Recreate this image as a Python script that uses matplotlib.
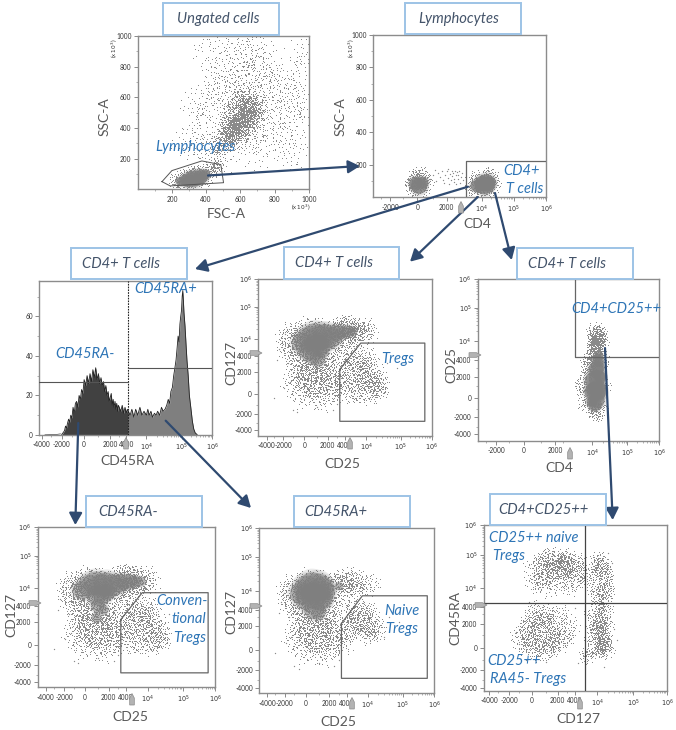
import numpy as np
import matplotlib
matplotlib.use("Agg")
import matplotlib.pyplot as plt
from matplotlib.path import Path
from matplotlib.patches import Polygon, Rectangle
from matplotlib.transforms import Affine2D
from matplotlib.ticker import NullFormatter, FixedLocator

W, H = 676, 730
plt.rcParams['font.family'] = ['Lato', 'DejaVu Sans']

TITLE_C = '#44546a'; GATE_C = '#2e75b6'; AX_C = '#595959'; SPINE = '#8c8c8c'; ARROW_C = '#2f4a70'; DOT = '#8a8a8a'; BOX_C = '#9dc3e6'

# ---------- values ----------
# CD25 / CD127 populations (shared by the three plots on those channels)
A_x = [-1200,-800,-400,0,400,800,1200,1600,2000,2400,-1000,-500,0,500,1000,1500,2000,-600,0,600,1200,1800,2400,-300,300,900,1500,-1500,-900,100,2600]
A_y = [7000,9000,11000,13000,15000,16000,17000,15000,14000,12000,5000,6500,8000,9500,10000,9000,8000,3800,4500,5500,6000,5000,4000,2800,3200,3500,3000,9000,14000,18000,6000]
B_x = [2800,3300,3800,4400,5000,5800,6800,8000,3000,3600,4200,5000,6000,3500,4500,9500,11000]
B_y = [20000,24000,22000,25000,22000,20000,18000,14000,14000,15000,16000,13000,11000,9000,10000,20000,15000]
C_x = [-600,-200,200,600,1000,1400,1800,2200,2600,3000,-300,300,900,1500,2100,2700,0,600,1200,1800,-900,3200]
C_y = [1800,1000,1500,800,1200,2000,1000,1600,900,1700,200,-200,300,-300,200,400,2500,2600,2300,2600,1000,500]
D_x = [4200,5000,6000,7500,9000,11000,14000,18000,4500,5500,7000,9000,12000,16000,22000,5000,7000,10000,15000,26000]
D_y = [3200,4200,3000,4000,2800,3500,2500,1500,1500,2000,1800,1200,1600,800,900,300,200,100,300,500]
outlier_x = [-3000,-2400,-1800,-1500,-2100,-1000,-1300,-600,2500,40000,80000,30000,-2600,-1900,1000,3000]
outlier_y = [-300,6000,14000,3000,9000,-1500,1000,-1800,-1500,3000,2500,1000,3500,500,-1200,-900]
# dense cores
treg_core_x = [-200,300,800,1300,1800,2300,2900,3600,4500,5500,300,800,1300,700,1100,1500]
treg_core_y = [8000,10000,12000,11000,12000,11000,15000,16000,17000,17000,5500,7000,7000,4000,3500,5000]
treg_core_d = [20,24,26,26,24,22,16,14,12,10,20,22,20,16,14,12]
conv_core_x = [-300,300,800,1300,1800,2400,3000,3800,4800,6000,7500,900,1400,1900,1000,1500,900]
conv_core_y = [9000,12000,14000,12000,13000,12000,14000,15000,16000,16000,16000,7000,7000,8000,4200,3500,2500]
conv_core_d = [18,22,24,24,24,22,18,16,14,12,10,20,18,14,14,10,10]
naive_core_x = [-400,100,500,900,1300,1700,100,600,1100,1500,600,1000,3000]
naive_core_y = [9000,12000,14000,13000,12000,10000,7000,8000,7000,6500,4200,3500,14000]
naive_core_d = [22,26,28,28,24,18,24,26,24,16,20,14,8]

# FSC / SSC
cells_x = [560,590,620,650,540,580,610,640,670,520,560,600,630,660,540,580,620,640,690,520,500,600,680,640,610,580,550,490,710,660]
cells_y = [400,430,470,520,360,400,440,490,540,330,350,380,420,470,450,490,530,570,600,390,320,320,480,620,590,550,510,270,540,430]
wide_x = [300,380,450,500,560,620,680,740,800,860,920,980,430,480,540,620,700,780,860,960,350,410,470,760,840,900,960,680,720,520]
wide_y = [300,420,540,660,780,880,930,810,700,640,560,460,920,760,620,710,800,680,500,900,560,250,220,420,330,240,760,250,340,960]
lym_core_x = [250,280,310,340,370,395,290,330,365]
lym_core_y = [50,58,65,72,82,95,48,52,65]
lym_core_d = [9,12,15,16,14,10,9,10,10]
lym_x = [220,260,300,340,380,420,440,250,300,350,400,460,480]
lym_y = [55,85,100,110,115,120,110,35,35,45,60,160,260]
fsc_gate_x = [142,200,375,486,502,190]
fsc_gate_y = [50,122,185,161,43,22]

# CD4 / SSC
cd4_core_x = [-100,100,300,8000,10000,12000,14000,16000,18000]
cd4_core_y = [85,70,90,70,85,70,90,80,95]
cd4_core_d = [13,16,12,12,15,17,17,14,9]
cd4_x = [-200,100,400,-150,300,200,7000,9000,12000,16000,22000,9000,14000,18000,-300,500,20000,7000]
cd4_y = [60,40,70,120,115,140,50,40,45,40,80,120,130,125,90,90,60,100]
cd4_band_x = [800,1000,1200,1300,1500,1600,1700,1900,2000,2100,2200,2400,2500,2600,2700,2800,3000,3100,3200,3400,3500,3600,3800,4000,4200,4400,1100,1800,2300,2900,3300,3900]
cd4_band_y = [110,135,100,150,125,165,105,140,160,120,175,145,105,165,130,150,115,165,140,155,110,135,160,125,150,105,170,90,85,95,80,90]

# CD4 / CD25
c5_core_x = [10000,12000,14000,16000,10000,12000,15000,17000,11000,14000,17000,13000,15000,16000,14000,16000]
c5_core_y = [-300,-600,-200,300,500,700,600,900,1600,1800,2000,2800,3000,3800,4300,5000]
c5_core_d = [11,13,15,12,15,17,17,12,17,17,12,15,13,10,10,8]
c5_x = [7500,8500,10000,12000,14000,17000,20000,8000,9000,7000,13000,15000,12000,14000,16000,18000,13000,15000,11000,16000,12000,14000,10000,15000,20000,9000,13000,14000,16000,12000]
c5_y = [500,1800,3000,-1200,-1600,-1000,1000,-500,2600,1200,5000,6000,7500,9000,11000,9000,13000,15000,6000,7000,18000,21000,4500,12000,4000,3500,10000,6500,14000,8500]

# CD127 / CD45RA
q1_x = [200,600,1000,1400,1800,2200,2600,3000,3500,4200,5000,600,1200,1800,2400,3000,1000,1600,2200,2800,300,900,1800,3400,4500]
q1_y = [40000,60000,70000,80000,60000,70000,60000,70000,50000,60000,40000,20000,25000,30000,35000,25000,40000,45000,45000,40000,15000,11000,13000,12000,20000]
q3_x = [-800,-400,0,400,800,1200,1600,2000,2400,2800,-600,-100,300,700,1100,1500,-300,100,500,900,1300,3200,200,1000,2200]
q3_y = [800,1300,800,1400,700,1200,600,900,500,1000,300,100,-200,100,-300,200,1900,2200,2400,2000,2300,1800,3300,3000,2900]
q2_x = [7000,9000,11000,13000,16000,19000,8000,11000,14000,18000,9000,12000,15000,10000,13000,17000,8000,12000,16000,11000,15000,9000,13000,18000,7000,10000,14000,20000,12000,16000,11000,15000]
q2_y = [-600,-300,0,200,300,-200,600,800,500,700,1400,1500,1300,2100,2300,1900,3000,3200,3400,5000,6000,9000,10000,8000,20000,30000,25000,15000,40000,50000,70000,30000]
q_out_x = [1000,-500,30000,35000,25000,20000,4500,4000,15000,-1300,-1000,-200]
q_out_y = [-1200,-1000,1500,600,60000,120000,-1300,3800,-1700,1200,300,5000]

# Histogram of CD45RA
hist_left_x = [-2000,-1900,-1800,-1700,-1600,-1500,-1400,-1300,-1200,-1100,-1000,-900,-800,-700,-600,-500,-400,-300,-200,-100,0,100,200,300,400,500,600,700,800,900,1000,1100,1200,1300,1400,1500,1600,1700,1800,1900,2000,2100,2200,2300,2400,2500,2600,2700,2800,2900,3000,3200,3400,3600,3800,4000,4200,4400]
hist_left_y = [0.3,0.8,1.5,2.2,4.5,3.5,6,8,6.5,10,8.5,14,11,16,17,14,20,18,23,21,28,25,30,26,31,27,33,29,34,28,31,26,29,25,27,22,25,20,22,17,19,21,15,18,14,17,13,16,12,15,14,12,15,11,14,11,13,12]
hist_right_x = [4400,4800,5200,5700,6200,6800,7500,8200,9000,10000,11000,12000,13500,15000,17000,19000,21000,24000,27000,30000,34000,38000,42000,46000,50000,55000,60000,65000,70000,75000,80000,85000,90000,95000,100000,105000,110000,115000,120000,130000,140000,150000,165000,180000,200000,225000,250000,280000,320000]
hist_right_y = [12,10,13,9,13,10,14,10,12,10,13,10,12,9,11,10,12,10,14,12,13,15,18,16,22,24,30,34,38,44,50,47,56,60,63,70,73,68,62,55,46,38,30,20,14,7,3,1,0.3]
hist_tail_x = [-3600,-3000,-2500,-2300,-2100]
hist_tail_y = [0.1,0.2,0.2,0.4,0.6]
hist_edge_left_y = 26.6
hist_edge_right_y = 33.7
hist_split = 4400

# Gates on CD25 / CD127
treg_gate_x = [3300,8000,600000,600000,3300]
treg_gate_y = [2300,8000,8000,-2800,-2800]

# ticks
bi_ticks = [-4000,-2000,0,2000,4000,10000,100000,1000000]
bi_labels = ['-4000','-2000','0','2000','4000','$10^4$','$10^5$','$10^6$']
bi_ticks_nof = [-2000,0,2000,10000,100000,1000000]
bi_labels_nof = ['-2000','0','2000','$10^4$','$10^5$','$10^6$']
lin_x = [200,400,600,800,1000]
lin_y = [200,400,600,800,1000]
hist_yticks = [0,20,40,60]

# ---------- figure ----------
fig = plt.figure(figsize=(W/100, H/100), dpi=100, facecolor='white')
PIX = Affine2D().scale(1/W, -1/H).translate(0, 1) + fig.transFigure

def make_axes(l, t, r, b):
    ax = fig.add_axes([l/W, 1-b/H, (r-l)/W, (b-t)/H])
    for s in ax.spines.values():
        s.set_color(SPINE); s.set_linewidth(1.0)
    ax.tick_params(which='major', length=3, width=0.6, color='#777777', labelsize=4.7, labelcolor='#333333', pad=1.5)
    ax.tick_params(which='minor', length=1.6, width=0.4, color='#777777')
    ax.set_zorder(1)
    return ax

def biex_scale(ax, axis, ticks, pix, labels, edge_pix):
    """Biexponential axis whose anchors follow the reference's tick layout."""
    u = np.arcsinh(np.array(ticks, float)/2000)
    p = np.array(pix, float)
    if p[0] > p[-1]:
        p = -p; edge = -edge_pix
    else:
        edge = edge_pix
    s0 = (p[1]-p[0])/(u[1]-u[0]); s1 = (p[-1]-p[-2])/(u[-1]-u[-2])
    uu = np.r_[u[0]-20, u, u[-1]+20]
    pp = np.r_[p[0]-20*s0, p, p[-1]+20*s1]
    fwd = lambda v: np.interp(np.arcsinh(np.asarray(v, float)/2000), uu, pp)
    inv = lambda q: 2000*np.sinh(np.interp(np.asarray(q, float), pp, uu))
    lim = float(inv(edge))
    minors = [m*d for d in (10000, 100000) for m in range(2, 10)]
    minors += [-3000, -1000, 1000, 3000]
    if axis == 'x':
        ax.set_xscale('function', functions=(fwd, inv))
        ax.set_xlim(lim, 1e6)
        ax.xaxis.set_major_locator(FixedLocator(ticks)); ax.set_xticklabels(labels)
        ax.xaxis.set_minor_locator(FixedLocator(minors)); ax.xaxis.set_minor_formatter(NullFormatter())
    else:
        ax.set_yscale('function', functions=(fwd, inv))
        ax.set_ylim(lim, 1e6)
        ax.yaxis.set_major_locator(FixedLocator(ticks)); ax.set_yticklabels(labels)
        ax.yaxis.set_minor_locator(FixedLocator(minors)); ax.yaxis.set_minor_formatter(NullFormatter())

# A hand-placed stipple used to render a read-off cloud position as a patch of grain
STAMP = [(-.82,.13),(-.71,-.36),(-.64,.52),(-.55,-.08),(-.47,.29),(-.41,-.63),(-.33,.74),(-.27,-.25),(-.19,.08),(-.14,.47),(-.09,-.82),(-.03,-.41),(.02,.88),(.06,.21),(.12,-.13),(.17,.61),(.23,-.57),(.28,.35),(.34,-.29),(.39,.02),(.44,.72),(.49,-.74),(.55,.18),(.6,-.45),(.66,.43),(.72,-.12),(.78,.27),(.85,-.31),(-.6,-.72),(-.88,-.28),(-.2,-.95),(.95,.05),(-.5,.85),(.35,-.9),(.52,.88),(-.98,.4)]

def stamp_path(angle, px):
    a = np.radians(angle); c, s = np.cos(a), np.sin(a)
    h = 0.8/px
    polys = []
    for x, y in STAMP:
        xr, yr = c*x-s*y, s*x+c*y
        polys.append(Path([(xr-h, yr-h), (xr+h, yr-h), (xr+h, yr+h), (xr-h, yr+h), (xr-h, yr-h)], closed=True))
    return Path.make_compound_path(*polys)

ANGLES = (0, 73, 151, 229, 301)

def grain(ax, xs, ys, px=34, color=DOT):
    xs, ys = np.asarray(xs, float), np.asarray(ys, float)
    size = (px*0.72)**2
    for i, angle in enumerate(ANGLES):
        m1 = stamp_path(angle, px)
        m2 = stamp_path(angle+37, px*0.7)
        ax.scatter(xs[i::5], ys[i::5], s=size, marker=m1, c=color, linewidths=0, zorder=2)
        ax.scatter(xs[i::5], ys[i::5], s=size*0.49, marker=m2, c=color, linewidths=0, zorder=2)

def core(ax, xs, ys, ds, alpha=0.5, color='#7f7f7f'):
    d = np.asarray(ds, float)
    ax.scatter(xs, ys, s=(d*1.25*0.72)**2, c=color, alpha=alpha*0.3, linewidths=0, zorder=3)
    ax.scatter(xs, ys, s=(d*0.72)**2, c=color, alpha=alpha, linewidths=0, zorder=3)

def dots(ax, xs, ys):
    ax.scatter(xs, ys, s=0.9, c=DOT, linewidths=0, zorder=2)

def gate_line(ax, xs, ys):
    ax.plot(xs, ys, color='#666666', lw=0.9, zorder=5)

def marker_x(x, y):
    fig.add_artist(Polygon([(x-2.3, y+8), (x-2.3, y+1), (x, y-3.5), (x+2.3, y+1), (x+2.3, y+8)], closed=True, transform=PIX, fc='#b3b3b3', ec='#8a8a8a', lw=0.5, zorder=6))
def marker_y(x, y):
    fig.add_artist(Polygon([(x-9, y-2.3), (x-1.5, y-2.3), (x+3, y), (x-1.5, y+2.3), (x-9, y+2.3)], closed=True, transform=PIX, fc='#b3b3b3', ec='#8a8a8a', lw=0.5, zorder=6))

def label(x, y, s, **kw):
    fig.text(x/W, 1-y/H, s, ha='center', va='center', zorder=12, **kw)
def axis_label(x, y, s, rot=0):
    label(x, y, s, color=AX_C, fontsize=10, rotation=rot)
def gate_text(x, y, s):
    label(x, y, s, color=GATE_C, fontsize=10.5, style='italic')
def title_box(l, t, r, b, cx, cy, s):
    fig.add_artist(Rectangle((l, t), r-l, b-t, transform=PIX, fc='white', ec=BOX_C, lw=1.4, zorder=8))
    label(cx, cy, s, color=TITLE_C, fontsize=10.6, style='italic')
def arrow(x0, y0, x1, y1):
    a = plt.annotate('', xy=((x1)/W, 1-y1/H), xytext=(x0/W, 1-y0/H), xycoords='figure fraction', textcoords='figure fraction',
                     arrowprops=dict(arrowstyle='-|>,head_length=0.55,head_width=0.3', color=ARROW_C, lw=1.6, shrinkA=0, shrinkB=0, mutation_scale=13), zorder=20, annotation_clip=False)
    a.set_zorder(20)

# Panel 1: ungated
ax1 = make_axes(137.7, 36, 308.7, 189.3)
ax1.set_xlim(0, 1000); ax1.set_ylim(0, 1000)
ax1.set_xticks(lin_x); ax1.set_yticks(lin_y)
ax1.set_xticks(range(100, 1000, 200), minor=True); ax1.set_yticks(range(100, 1000, 200), minor=True)
grain(ax1, cells_x, cells_y, px=28)
grain(ax1, cells_x[:12], cells_y[:12], px=20)
grain(ax1, wide_x, wide_y, px=40)
grain(ax1, lym_x, lym_y, px=15)
core(ax1, lym_core_x, lym_core_y, lym_core_d, alpha=0.8)
ax1.plot(fsc_gate_x+fsc_gate_x[:1], fsc_gate_y+fsc_gate_y[:1], color='#555555', lw=0.7, zorder=5)

# Panel 2: lymphocytes
ax2 = make_axes(373.3, 35, 546, 197.3)
biex_scale(ax2, 'x', bi_ticks_nof, [181,262,350,456,551,648], bi_labels_nof, 130)
ax2.set_ylim(0, 1000); ax2.set_yticks(lin_y); ax2.set_yticks(range(100, 1000, 200), minor=True)
grain(ax2, cd4_x, cd4_y, px=18)
dots(ax2, cd4_band_x, cd4_band_y)
core(ax2, cd4_core_x, cd4_core_y, cd4_core_d, alpha=0.8)
ax2.plot([5000, 5000, 1e6], [0, 224, 224], color='#666666', lw=0.9, zorder=5)

# Panel 3: histogram
ax3 = make_axes(39.3, 280.7, 212.3, 435)
biex_scale(ax3, 'x', bi_ticks, [125,185,252,330,378,438,543,635], bi_labels, 118)
ax3.set_ylim(0, 78); ax3.set_yticks(hist_yticks); ax3.set_yticks([10,30,50,70], minor=True)
ax3.fill_between(hist_left_x, hist_left_y, color='#414141', lw=0, zorder=2)
ax3.fill_between(hist_right_x, hist_right_y, color='#7f7f7f', lw=0, zorder=2)
ax3.plot(hist_left_x+hist_right_x, hist_left_y+hist_right_y, color='#222222', lw=0.6, zorder=3)
ax3.plot(hist_tail_x, hist_tail_y, color='#555555', lw=0.5, zorder=3)
ax3.axvline(hist_split, color='#222222', lw=0.8, ls=(0, (1.5, 1)), zorder=5)
ax3.plot([ax3.get_xlim()[0], hist_split], [hist_edge_left_y]*2, color='#555555', lw=0.8, zorder=5)
ax3.plot([hist_split, 1e6], [hist_edge_right_y]*2, color='#555555', lw=0.8, zorder=5)

# Panel 4: Tregs
ax4 = make_axes(258.3, 279.3, 431.7, 435.7)
biex_scale(ax4, 'x', bi_ticks, [125,175,238,308,360,423,527,620], bi_labels, 100)
biex_scale(ax4, 'y', bi_ticks, [571,521,463,397,349,296,201,118], bi_labels, 587)
grain(ax4, A_x, A_y, px=30); grain(ax4, B_x, B_y, px=24); grain(ax4, C_x, C_y, px=30)
grain(ax4, D_x, D_y, px=26); dots(ax4, outlier_x, outlier_y)
core(ax4, treg_core_x, treg_core_y, treg_core_d)
gate_line(ax4, treg_gate_x+treg_gate_x[:1], treg_gate_y+treg_gate_y[:1])

# Panel 5: CD4+CD25++
ax5 = make_axes(477.7, 279.3, 659.3, 441)
biex_scale(ax5, 'x', bi_ticks_nof, [168,252,345,456,562,658], bi_labels_nof, 113)
biex_scale(ax5, 'y', bi_ticks, [582,532,475,410,361,303,203,118], bi_labels, 603)
grain(ax5, c5_x, c5_y, px=18)
core(ax5, c5_core_x, c5_core_y, c5_core_d, alpha=0.75)
ax5.plot([5000, 5000, 1e6], [1e6, 4800, 4800], color='#666666', lw=0.9, zorder=5)

# Panel 6: conventional Tregs
ax6 = make_axes(37.7, 527.3, 215.3, 687.3)
biex_scale(ax6, 'x', bi_ticks, [137,193,255,326,378,443,549,646], bi_labels, 113)
biex_scale(ax6, 'y', bi_ticks, [577,525,466,398,350,295,198,113], bi_labels, 592)
grain(ax6, A_x, A_y, px=30); grain(ax6, B_x, B_y, px=26); grain(ax6, C_x, C_y, px=30)
grain(ax6, D_x, D_y, px=26); dots(ax6, outlier_x, outlier_y)
core(ax6, conv_core_x, conv_core_y, conv_core_d)
gate_line(ax6, treg_gate_x+treg_gate_x[:1], treg_gate_y+treg_gate_y[:1])

# Panel 7: naive Tregs
ax7 = make_axes(259.3, 528.3, 434.3, 693.3)
biex_scale(ax7, 'x', bi_ticks, [127,180,242,313,365,428,533,628], bi_labels, 103)
biex_scale(ax7, 'y', bi_ticks, [594,541,480,410,360,304,202,116], bi_labels, 610)
grain(ax7, A_x, A_y, px=30); grain(ax7, B_x[::2], B_y[::2], px=24); grain(ax7, C_x, C_y, px=30); grain(ax7, D_x[:13], D_y[:13], px=22)
dots(ax7, outlier_x, outlier_y)
core(ax7, naive_core_x, naive_core_y, naive_core_d)
gate_line(ax7, treg_gate_x+treg_gate_x[:1], treg_gate_y+treg_gate_y[:1])

# Panel 8: CD25++ quadrants
ax8 = make_axes(483.7, 525.3, 667, 691)
biex_scale(ax8, 'x', bi_ticks, [148,207,276,353,405,472,580,681], bi_labels, 131)
biex_scale(ax8, 'y', bi_ticks, [595,540,475,401,350,294,196,106], bi_labels, 603)
grain(ax8, q1_x, q1_y, px=24); grain(ax8, q3_x, q3_y, px=24); grain(ax8, q2_x, q2_y, px=18)
dots(ax8, q_out_x, q_out_y)
ax8.axvline(6000, color='#444444', lw=0.9, zorder=5)
ax8.axhline(4800, color='#444444', lw=0.9, zorder=5)

# Threshold markers on the axes
for x, y in [(461,205),(126,441),(350,441),(570,451),(132,697),(352,701),(580,701)]:
    marker_x(x, y)
for x, y in [(259,353),(478,355),(38,603),(259,606),(484,605)]:
    marker_y(x, y)

# Title boxes
title_box(162.7, 2.7, 278.7, 35.3, 218, 19.3, 'Ungated cells')
title_box(405, 2.7, 520.7, 34.3, 458.3, 19.3, 'Lymphocytes')
title_box(71.3, 248.3, 187.3, 279.3, 121.3, 264.3, 'CD4+ T cells')
title_box(284.3, 247.3, 399.3, 278.7, 334, 263.3, 'CD4+ T cells')
title_box(517, 248.3, 632.7, 279, 567, 264.3, 'CD4+ T cells')
title_box(86, 496, 201.7, 526.7, 128, 512.3, 'CD45RA-')
title_box(294.3, 496, 409.7, 527.3, 335.7, 512.3, 'CD45RA+')
title_box(490, 494, 605.7, 525, 543.3, 510, 'CD4+CD25++')

# Axis labels
axis_label(105, 117, 'SSC-A', 90); axis_label(226.7, 214, 'FSC-A')
axis_label(340.7, 117, 'SSC-A', 90); axis_label(477.7, 224, 'CD4')
axis_label(127.7, 460.7, 'CD45RA')
axis_label(231, 363.3, 'CD127', 90); axis_label(342.7, 464, 'CD25')
axis_label(451, 365, 'CD25', 90); axis_label(559, 468.3, 'CD4')
axis_label(11, 615, 'CD127', 90); axis_label(130.7, 717, 'CD25')
axis_label(231, 611.7, 'CD127', 90); axis_label(338.7, 721.7, 'CD25')
axis_label(455, 618.3, 'CD45RA', 90); axis_label(578, 718.7, 'CD127')

# (x 10^3) notes
for x, y, r in [(114,48,90),(351,48,90)]:
    label(x, y, '(x $10^3$)', color='#333333', fontsize=4.2, rotation=r)
label(301, 207, '(x $10^3$)', color='#333333', fontsize=4.2)

# Gate names
gate_text(195.3, 147.3, 'Lymphocytes')
gate_text(521.7, 170.7, 'CD4+'); gate_text(524.3, 189.3, 'T cells')
gate_text(166, 288.7, 'CD45RA+'); gate_text(84.7, 353.7, 'CD45RA-')
gate_text(397.3, 358.7, 'Tregs'); gate_text(616, 309, 'CD4+CD25++')
gate_text(181.7, 601, 'Conven-'); gate_text(188.7, 619.3, 'tional'); gate_text(190, 638.3, 'Tregs')
gate_text(402, 610.7, 'Naive'); gate_text(401.7, 629.3, 'Tregs')
gate_text(533.7, 537.7, 'CD25++ naive'); gate_text(508.3, 556.3, 'Tregs')
gate_text(514, 661, 'CD25++'); gate_text(527.7, 679.3, 'RA45- Tregs')

# Arrows between gates and plots
arrow(208, 175.5, 360, 166)
arrow(468, 186.7, 195, 269)
arrow(477.7, 197, 410, 261.7)
arrow(495, 193, 511.7, 260)
arrow(78.3, 423, 75.3, 525)
arrow(165.7, 420.7, 251, 508)
arrow(605, 348, 612.7, 520)

fig.savefig('out.png', dpi=100, facecolor='white')
